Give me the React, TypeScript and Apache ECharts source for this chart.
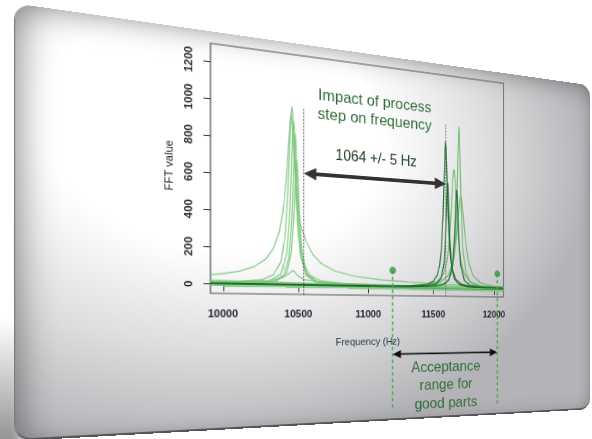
import React, { useEffect, useRef } from 'react';
import * as echarts from 'echarts';

// ---------- axes ----------
const X_MIN = 9920;
const X_MAX = 12080;
const Y_MIN = -50;
const Y_MAX = 1300;
const X_TICKS = [10000, 10500, 11000, 11500, 12000];
const Y_TICKS = [0, 200, 400, 600, 800, 1000, 1200];

// ---------- spectra (frequency Hz, FFT value) ----------
const LEFT_BROAD = [[9920,50],[10000,58],[10100,72],[10200,100],[10280,145],[10330,205],[10370,300],[10395,420],[10415,580],[10430,760],[10441,900],[10448,960],[10455,925],[10466,800],[10478,630],[10493,470],[10512,350],[10550,255],[10600,178],[10660,128],[10760,86],[10900,60],[11100,42],[11300,32],[11500,26],[11700,20],[11900,16],[12080,14]];
const LEFT_TALL = [[9920,13],[10100,16],[10250,28],[10330,58],[10380,132],[10410,288],[10427,507],[10441,806],[10450,974],[10455,1005],[10460,974],[10469,806],[10483,507],[10500,288],[10530,132],[10580,58],[10660,28],[10810,16],[11000,12],[11400,9],[12080,6]];
const LEFT_MID = [[9920,9],[10150,12],[10300,23],[10380,63],[10420,178],[10440,390],[10453,688],[10461,882],[10466,927],[10471,882],[10479,688],[10492,390],[10512,178],[10552,63],[10632,23],[10782,12],[11100,8],[11600,6],[12080,5]];
const LEFT_RIGHT = [[9920,5],[10200,9],[10330,20],[10400,57],[10435,156],[10455,371],[10467,658],[10474,822],[10478,855],[10482,822],[10489,658],[10501,371],[10521,156],[10556,57],[10626,20],[10756,9],[11100,5],[12080,3]];
const LEFT_LOW = [[9920,4],[10200,8],[10350,22],[10420,71],[10450,181],[10466,355],[10478,585],[10484,682],[10488,705],[10492,682],[10498,585],[10510,355],[10526,181],[10556,71],[10626,22],[10776,8],[11200,5],[12080,3]];
const LEFT_BUMP = [[9920,14],[10150,18],[10300,25],[10390,42],[10430,62],[10452,78],[10462,84],[10474,76],[10495,55],[10540,34],[10650,22],[10900,15],[11300,10],[11800,7],[12080,6]];
const RIGHT_DARK_A = [[9920,6],[10300,6],[10700,6],[11000,7],[11200,8],[11350,11],[11450,21],[11500,41],[11530,76],[11550,137],[11565,244],[11578,450],[11588,717],[11594,860],[11598,894],[11602,860],[11608,717],[11618,450],[11631,244],[11648,128],[11680,55],[11730,24],[11800,12],[11900,7],[12080,5]];
const RIGHT_DARK_B = [[9920,5],[11000,5],[11300,7],[11450,11],[11520,23],[11560,55],[11585,147],[11598,305],[11607,517],[11612,623],[11615,645],[11618,623],[11623,517],[11632,305],[11645,147],[11670,55],[11710,23],[11780,11],[11930,7],[12080,6]];
const RIGHT_LIGHT_A = [[9920,6],[11000,6],[11300,7],[11450,10],[11550,18],[11610,38],[11650,95],[11675,243],[11689,500],[11698,797],[11703,948],[11707,994],[11711,948],[11716,797],[11725,500],[11739,243],[11764,95],[11804,38],[11864,18],[11964,10],[12080,6]];
const RIGHT_LIGHT_B = [[9920,6],[11000,7],[11300,10],[11450,19],[11530,39],[11580,84],[11610,167],[11630,302],[11646,507],[11656,657],[11662,717],[11666,730],[11670,717],[11676,657],[11686,507],[11702,302],[11722,167],[11752,84],[11802,39],[11882,19],[12032,10],[12080,9]];
const RIGHT_DARK_C = [[9920,5],[11000,5],[11350,7],[11500,10],[11580,21],[11625,50],[11655,143],[11670,305],[11679,485],[11684,577],[11688,605],[11692,577],[11697,485],[11706,305],[11721,143],[11751,50],[11796,21],[11876,10],[12026,7],[12080,6]];
const RIGHT_LIGHT_C = [[9920,6],[11000,7],[11300,10],[11450,17],[11560,37],[11620,80],[11660,170],[11685,307],[11702,453],[11716,553],[11722,565],[11728,553],[11742,453],[11759,307],[11784,170],[11824,80],[11884,37],[11994,17],[12080,12]];
const BAND_A = [[9920,16],[10200,13],[10600,10],[11000,7],[11400,6],[11800,5],[12080,4]];
const BAND_B = [[9920,-4],[10300,-5],[10700,-6],[11100,-7],[11500,-8],[11900,-9],[12080,-10]];
const BAND_DARK = [[9920,4],[10400,3],[10800,1],[11200,0],[11600,-1],[12080,-2]];

// ---------- annotations ----------
const REF_LINE_FREQS = [10536, 11600];
const REF_LINE_TOP = 1000;
const SHIFT_ARROW = [[10536, 11600, 636]];
const ACCEPT_DOTS = [[11183, 100], [12028, 95]];
const ACCEPT_LINE_BOTTOM = -735;
const ACCEPT_ARROW = [[11183, 12028, -398]];
const NOTE_TEXTS = ['Impact of process\nstep on frequency', '1064 +/- 5 Hz', 'Acceptance\nrange for\ngood parts'];
const NOTE_POS = [[11060, 1042], [11064, 759], [11605, -586]];

// ---------- layout (flat card, then perspective) ----------
const CW = 647;
const CH = 399;
const PL = 179.1, PT = 12, PW = 342.5, PH = 250;
const SCREEN_QUAD = [[210.5, 43.3], [503.3, 83.3], [503.3, 297], [210.5, 293.3]];

const FONT = "'Liberation Sans', Arial, Helvetica, sans-serif";
const LIGHT = 'rgba(122,198,122,0.8)';
const LIGHT2 = 'rgba(92,178,92,0.8)';
const DARK = 'rgba(24,104,40,0.9)';

function solveHomography(src: number[][], dst: number[][]) {
  const A: number[][] = [];
  const b: number[] = [];
  for (let i = 0; i < 4; i++) {
    const [x, y] = src[i];
    const [X, Y] = dst[i];
    A.push([x, y, 1, 0, 0, 0, -x * X, -y * X]); b.push(X);
    A.push([0, 0, 0, x, y, 1, -x * Y, -y * Y]); b.push(Y);
  }
  const n = 8;
  for (let c = 0; c < n; c++) {
    let piv = c;
    for (let r = c + 1; r < n; r++) if (Math.abs(A[r][c]) > Math.abs(A[piv][c])) piv = r;
    [A[c], A[piv]] = [A[piv], A[c]];
    [b[c], b[piv]] = [b[piv], b[c]];
    for (let r = 0; r < n; r++) {
      if (r === c) continue;
      const f = A[r][c] / A[c][c];
      for (let k = c; k < n; k++) A[r][k] -= f * A[c][k];
      b[r] -= f * b[c];
    }
  }
  return b.map((v, i) => v / A[i][i]);
}

function perspectiveTransform() {
  const src = [[PL, PT], [PL + PW, PT], [PL + PW, PT + PH], [PL, PT + PH]];
  const h = solveHomography(src, SCREEN_QUAD);
  const m = [h[0], h[3], 0, h[6], h[1], h[4], 0, h[7], 0, 0, 1, 0, h[2], h[5], 0, 1];
  return `matrix3d(${m.join(',')})`;
}

function curve(data: number[][], color: string, width: number, z = 2) {
  return {
    type: 'line', data, showSymbol: false, symbol: 'none', smooth: false, z,
    lineStyle: { color, width }, silent: true,
  };
}

function arrowItem(api: any, headLen: number, headHalf: number, width: number, color: string) {
  const y = api.value(2);
  const p1 = api.coord([api.value(0), y]);
  const p2 = api.coord([api.value(1), y]);
  const yy = p1[1];
  return {
    type: 'group',
    children: [
      { type: 'line', shape: { x1: p1[0] + headLen - 1, y1: yy, x2: p2[0] - headLen + 1, y2: p2[1] }, style: { stroke: color, lineWidth: width } },
      { type: 'polygon', shape: { points: [[p1[0], yy], [p1[0] + headLen, yy - headHalf], [p1[0] + headLen, yy + headHalf]] }, style: { fill: color } },
      { type: 'polygon', shape: { points: [[p2[0], p2[1]], [p2[0] - headLen, p2[1] - headHalf], [p2[0] - headLen, p2[1] + headHalf]] }, style: { fill: color } },
    ],
  };
}

export default function App() {
  const ref = useRef<HTMLDivElement>(null);

  useEffect(() => {
    if (!ref.current) return;
    const chart = echarts.init(ref.current, null, { renderer: 'svg' });
    const noteStyles = [
      { size: 17, color: '#2f6e37', lh: 20 },
      { size: 16, color: '#213d26', lh: 20 },
      { size: 17, color: '#2f6e37', lh: 20.4 },
    ];
    chart.setOption({
      animation: false,
      grid: { left: PL, top: PT, width: PW, height: PH, show: true, borderColor: '#555', borderWidth: 1.2, containLabel: false },
      xAxis: {
        type: 'value', min: X_MIN, max: X_MAX,
        axisLine: { show: false }, splitLine: { show: false },
        axisTick: { show: true, length: 7, customValues: X_TICKS, lineStyle: { color: '#333', width: 1 } },
        axisLabel: { customValues: X_TICKS, formatter: (v: number) => String(v), margin: 15, fontSize: 11, fontWeight: 'bold', color: '#2b2233', fontFamily: FONT },
        name: 'Frequency (Hz)', nameLocation: 'middle', nameGap: 45,
        nameTextStyle: { fontSize: 11, color: '#1f3342', fontFamily: FONT },
      },
      yAxis: {
        type: 'value', min: Y_MIN, max: Y_MAX,
        axisLine: { show: false }, splitLine: { show: false },
        axisTick: { show: true, length: 7, customValues: Y_TICKS, lineStyle: { color: '#333', width: 1 } },
        axisLabel: { customValues: Y_TICKS, formatter: (v: number) => String(v), rotate: 90, margin: 16, fontSize: 11.5, fontWeight: 'bold', color: '#2d2d2d', fontFamily: FONT },
        name: 'FFT value', nameLocation: 'middle', nameGap: 33,
        nameTextStyle: { fontSize: 11, color: '#222', fontFamily: FONT },
      },
      series: [
        curve(BAND_A, LIGHT, 3, 1),
        curve(BAND_B, LIGHT, 3, 1),
        curve(BAND_DARK, DARK, 1, 1),
        curve(LEFT_BROAD, LIGHT, 1.4),
        curve(LEFT_TALL, LIGHT, 1.4),
        curve(LEFT_MID, LIGHT, 1.4),
        curve(LEFT_RIGHT, LIGHT, 1.4),
        curve(LEFT_LOW, LIGHT, 1.4),
        curve(LEFT_BUMP, LIGHT, 1.4),
        curve(RIGHT_LIGHT_A, LIGHT2, 1.4),
        curve(RIGHT_LIGHT_B, LIGHT2, 1.4),
        curve(RIGHT_LIGHT_C, LIGHT2, 1.4),
        curve(RIGHT_DARK_A, DARK, 1.4, 3),
        curve(RIGHT_DARK_B, DARK, 1.4, 3),
        curve(RIGHT_DARK_C, DARK, 1.4, 3),
        {
          type: 'custom', clip: false, silent: true, z: 4,
          data: REF_LINE_FREQS.map((f) => [f, REF_LINE_TOP]),
          renderItem: (params: any, api: any) => {
            const top = api.coord([api.value(0), api.value(1)]);
            const bot = api.coord([api.value(0), Y_MIN]);
            return { type: 'line', shape: { x1: top[0], y1: top[1], x2: bot[0], y2: bot[1] }, style: { stroke: '#555', lineWidth: 1, lineDash: [2, 1.5] } };
          },
        },
        {
          type: 'custom', clip: false, silent: true, z: 5,
          encode: { x: [0, 1], y: 2 },
          data: SHIFT_ARROW,
          renderItem: (params: any, api: any) => arrowItem(api, 14, 6.5, 4, '#333'),
        },
        {
          type: 'custom', clip: false, silent: true, z: 4,
          data: ACCEPT_DOTS,
          renderItem: (params: any, api: any) => {
            const top = api.coord([api.value(0), api.value(1)]);
            const bot = api.coord([api.value(0), ACCEPT_LINE_BOTTOM]);
            return { type: 'line', shape: { x1: top[0], y1: top[1], x2: bot[0], y2: bot[1] }, style: { stroke: '#45a552', lineWidth: 1.6, lineDash: [4, 3] } };
          },
        },
        {
          type: 'scatter', data: ACCEPT_DOTS, symbolSize: 8, z: 6, silent: true,
          itemStyle: { color: '#2f9a40' },
        },
        {
          type: 'custom', clip: false, silent: true, z: 5,
          encode: { x: [0, 1], y: 2 },
          data: ACCEPT_ARROW,
          renderItem: (params: any, api: any) => arrowItem(api, 10, 4.5, 1.8, '#111'),
        },
        {
          type: 'custom', clip: false, silent: true, z: 7,
          data: NOTE_POS,
          renderItem: (params: any, api: any) => {
            const i = params.dataIndex;
            const pt = api.coord([api.value(0), api.value(1)]);
            const s = noteStyles[i];
            return {
              type: 'text', x: pt[0], y: pt[1],
              style: { text: NOTE_TEXTS[i], fill: s.color, fontSize: s.size, fontFamily: FONT, align: 'center', verticalAlign: 'middle', lineHeight: s.lh },
            };
          },
        },
      ],
    });
    return () => chart.dispose();
  }, []);

  const transform = perspectiveTransform();

  return (
    <div style={{ position: 'fixed', left: 0, top: 0, width: 592, height: 439, overflow: 'hidden', background: '#ffffff' }}>
      <div style={{
        position: 'absolute', left: -18, top: 320, width: 40, height: 150,
        background: 'linear-gradient(to bottom, rgba(80,80,80,0) 0%, rgba(80,80,80,0.45) 60%, rgba(60,60,60,0.7) 100%)',
        filter: 'blur(6px)',
      }} />
      <div style={{
        position: 'absolute', left: 0, top: 0, width: CW, height: CH,
        transformOrigin: '0 0', transform,
      }}>
        <div style={{
          position: 'absolute', left: 0, top: 0, width: CW, height: CH, boxSizing: 'border-box',
          borderRadius: 15,
          background: 'radial-gradient(ellipse 70% 80% at 30% 25%, #ffffff 0%, #ffffff 38%, #dedee0 68%, #b4b4b8 100%)',
          backgroundColor: '#a9a9ad',
          boxShadow: 'inset 18px 0 30px -12px rgba(0,0,0,0.32), inset 0 16px 28px -12px rgba(0,0,0,0.22), inset -10px 0 18px -10px rgba(0,0,0,0.2)',
          borderBottom: '2.5px solid #55555a',
          borderLeft: '1.5px solid rgba(110,110,115,0.8)',
        }} />
        <div ref={ref} style={{ position: 'absolute', left: 0, top: 0, width: CW, height: CH }} />
      </div>
    </div>
  );
}
